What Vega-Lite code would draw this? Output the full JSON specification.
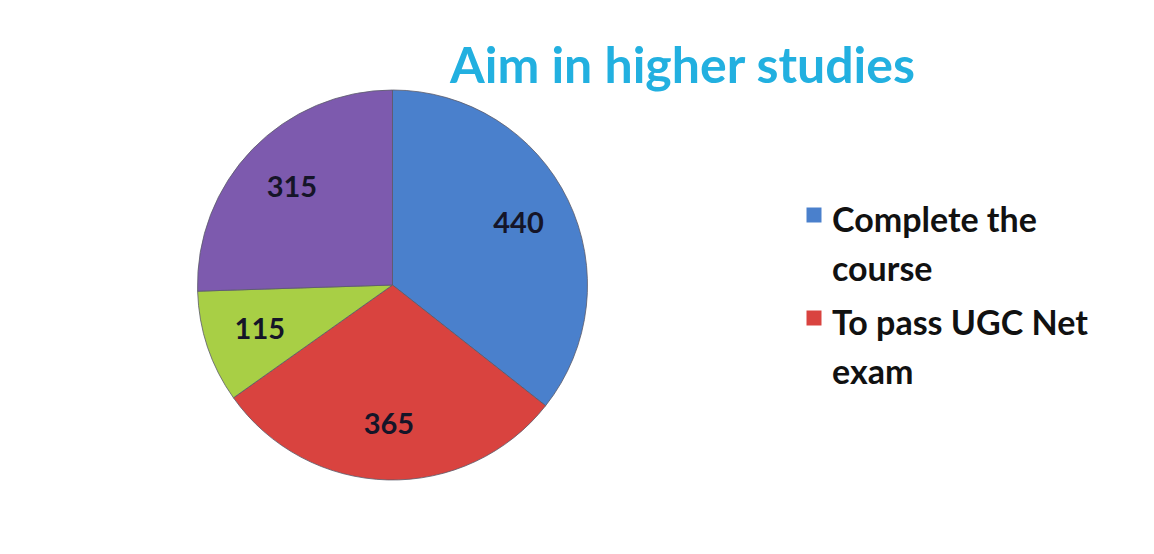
{
  "$schema": "https://vega.github.io/schema/vega-lite/v6.json",
  "width": 785,
  "height": 538,
  "autosize": {"type": "none"},
  "padding": {"left": 0, "top": 16, "right": 369, "bottom": 0},
  "background": "white",
  "title": {
    "text": "Aim in higher studies",
    "anchor": "start",
    "frame": "group",
    "orient": "top",
    "dx": 450,
    "offset": -117,
    "baseline": "alphabetic",
    "font": "Lato",
    "fontSize": 50,
    "fontWeight": "bold",
    "color": "#22B0E0"
  },
  "config": {
    "style": {
      "guide-label": {"lineHeight": 49, "dy": 17}
    }
  },
  "data": {
    "values": [
      {"aim": "Complete the course", "count": 440, "order": 1},
      {"aim": "To pass UGC Net exam", "count": 365, "order": 2},
      {"aim": "Other aim 1", "count": 115, "order": 3},
      {"aim": "Other aim 2", "count": 315, "order": 4}
    ]
  },
  "encoding": {
    "theta": {"field": "count", "type": "quantitative", "stack": true},
    "order": {"field": "order", "type": "quantitative"},
    "color": {
      "field": "aim",
      "type": "nominal",
      "sort": ["Complete the course", "To pass UGC Net exam", "Other aim 1", "Other aim 2"],
      "scale": {
        "domain": ["Complete the course", "To pass UGC Net exam", "Other aim 1", "Other aim 2"],
        "range": ["#4A80CC", "#D9433F", "#A8CF45", "#7D5AAE"]
      },
      "legend": {
        "title": null,
        "values": ["Complete the course", "To pass UGC Net exam"],
        "orient": "none",
        "legendX": 797,
        "legendY": 182,
        "symbolType": "square",
        "symbolSize": 225,
        "symbolStrokeWidth": 0,
        "labelFont": "Lato",
        "labelFontSize": 34,
        "labelFontWeight": "bold",
        "labelColor": "#111111",
        "labelLimit": 400,
        "labelOffset": 1,
        "labelExpr": "datum.label == 'Complete the course' ? ['Complete the', 'course'] : ['To pass UGC Net', 'exam']",
        "labelBaseline": "alphabetic",
        "rowPadding": 13
      }
    }
  },
  "layer": [
    {
      "mark": {"type": "arc", "outerRadius": 195, "stroke": "#5a5a6a", "strokeWidth": 0.8}
    },
    {
      "mark": {"type": "text", "radius": 140, "font": "Lato", "fontSize": 29, "fontWeight": "bold", "color": "#151528"},
      "encoding": {
        "text": {"field": "count", "type": "quantitative"},
        "color": {"value": "#151528"}
      }
    }
  ]
}
